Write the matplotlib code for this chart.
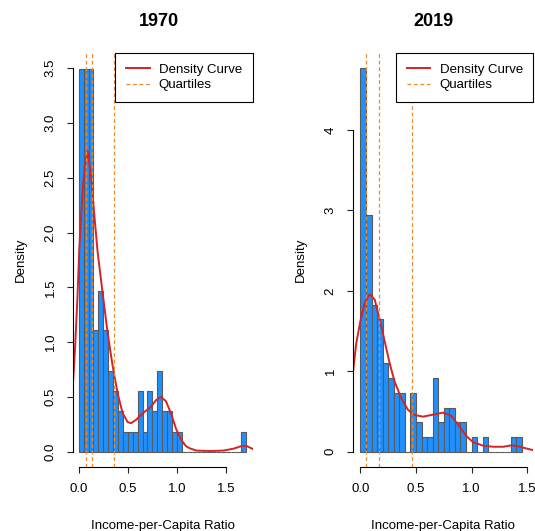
import matplotlib
matplotlib.use('Agg')
from matplotlib import pyplot as plt

plt.rcParams['font.family'] = ['Liberation Sans', 'DejaVu Sans']

bin_width = 0.05

# histogram densities per 0.05 bin, starting at 0
dens_1970 = [3.49, 3.49, 3.49, 1.11, 1.47, 1.11, 0.74, 0.55, 0.37, 0.18, 0.18,
             0.18, 0.55, 0.18, 0.55, 0.37, 0.74, 0.37, 0.37, 0.18, 0.18,
             0, 0, 0, 0, 0, 0, 0, 0, 0, 0, 0, 0, 0.18]
dens_2019 = [4.77, 2.94, 1.83, 1.65, 1.10, 0.92, 0.73, 0.73, 0, 0.73, 0.37,
             0.18, 0.18, 0.92, 0.37, 0.55, 0.55, 0.37, 0.37, 0, 0.18, 0,
             0.18, 0, 0, 0, 0, 0.18, 0.18]

# density curves
kde_x_1970 = [-0.061, -0.038, -0.014, 0.006, 0.041, 0.064, 0.092, 0.125, 0.159,
              0.193, 0.244, 0.295, 0.346, 0.397, 0.448, 0.499, 0.533, 0.583,
              0.652, 0.736, 0.787, 0.838, 0.889, 0.940, 0.991, 1.042, 1.093,
              1.133, 1.20, 1.337, 1.473, 1.575, 1.66, 1.71, 1.772]
kde_y_1970 = [0.58, 0.93, 1.38, 1.85, 2.40, 2.62, 2.74, 2.52, 2.16, 1.82, 1.445,
              1.08, 0.78, 0.53, 0.35, 0.27, 0.26, 0.29, 0.35, 0.41, 0.47, 0.50,
              0.46, 0.35, 0.21, 0.11, 0.05, 0.03, 0.01, 0.006, 0.01, 0.027,
              0.052, 0.052, 0.025]
kde_x_2019 = [-0.069, -0.037, -0.001, 0.039, 0.084, 0.129, 0.174, 0.219, 0.263,
              0.308, 0.368, 0.428, 0.488, 0.563, 0.638, 0.743, 0.817, 0.893,
              0.956, 1.015, 1.105, 1.195, 1.285, 1.361, 1.435, 1.510, 1.555]
kde_y_2019 = [0.96, 1.35, 1.62, 1.85, 1.96, 1.89, 1.64, 1.37, 1.10, 0.87, 0.665,
              0.52, 0.457, 0.436, 0.457, 0.486, 0.448, 0.31, 0.19, 0.117, 0.075,
              0.062, 0.062, 0.08, 0.062, 0.034, 0.02]

quart_1970 = [0.074, 0.139, 0.356]
quart_2019 = [0.050, 0.170, 0.467]

panels = [
    ("1970", dens_1970, kde_x_1970, kde_y_1970, quart_1970,
     [0.1359, 0.1205, 0.3364, 0.780], (-0.061, 1.772), (-0.14, 3.64),
     [0, 0.5, 1.0, 1.5, 2.0, 2.5, 3.0, 3.5], ["0.0", "0.5", "1.0", "1.5", "2.0", "2.5", "3.0", "3.5"],
     0.2966),
    ("2019", dens_2019, kde_x_2019, kde_y_2019, quart_2019,
     [0.6593, 0.1205, 0.3376, 0.780], (-0.069, 1.555), (-0.19, 4.96),
     [0, 1, 2, 3, 4], ["0", "1", "2", "3", "4"],
     0.8093),
]

fig = plt.figure(figsize=(5.35, 5.31), dpi=100)

for title, dens, kx, ky, quarts, pos, xlim, ylim, yt, ytl, tx in panels:
    ax = fig.add_axes(pos)
    lefts = [i * bin_width for i in range(len(dens))]
    ax.bar(lefts, dens, width=bin_width, align='edge', color='#1E90FF',
           edgecolor='#5a5a5a', linewidth=0.8)
    ax.plot(kx, ky, color='#D42424', lw=1.4, label='Density Curve')
    for i, q in enumerate(quarts):
        ax.axvline(q, color='#EE8A2A', lw=0.9, dashes=(3, 2.2),
                   label='Quartiles' if i == 0 else None)
    ax.set_xlim(*xlim)
    ax.set_ylim(*ylim)
    for s in ['top', 'right']:
        ax.spines[s].set_visible(False)
    ax.spines['left'].set_bounds(yt[0], yt[-1])
    ax.spines['bottom'].set_bounds(0, 1.5)
    ax.set_xticks([0, 0.5, 1.0, 1.5])
    ax.set_xticklabels(["0.0", "0.5", "1.0", "1.5"])
    ax.set_yticks(yt)
    ax.set_yticklabels(ytl, rotation=90, va='center')
    ax.tick_params(length=4.5, width=0.8, labelsize=9.5, pad=7, color='#222222')
    ax.set_xlabel("Income-per-Capita Ratio", fontsize=9.5, labelpad=18)
    ax.set_ylabel("Density", fontsize=9.5, labelpad=13)
    leg = ax.legend(loc='upper right', bbox_to_anchor=(1, 1), borderaxespad=0,
                    fancybox=False, framealpha=1, edgecolor='black', fontsize=9.5,
                    handlelength=1.8, handletextpad=0.7, labelspacing=0.25,
                    borderpad=0.8)
    leg.get_frame().set_linewidth(0.8)
    fig.text(tx, 0.960, title, ha='center', va='center', fontsize=13, fontweight='bold')

fig.savefig('out.png', dpi=100)
